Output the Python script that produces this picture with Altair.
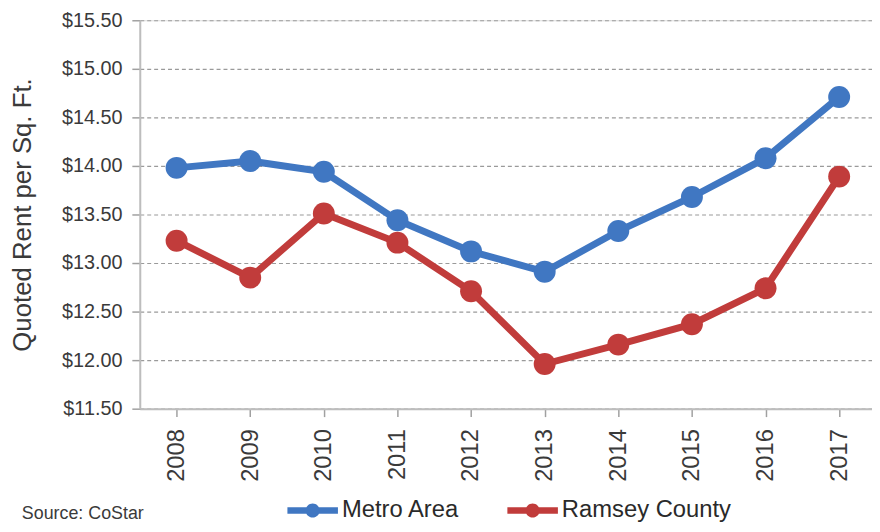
import altair as alt
import pandas as pd

years = ["2008", "2009", "2010", "2011", "2012", "2013", "2014", "2015", "2016", "2017"]
metro = [13.98, 14.05, 13.94, 13.44, 13.12, 12.91, 13.33, 13.68, 14.08, 14.71]
ramsey = [13.23, 12.85, 13.51, 13.21, 12.71, 11.96, 12.16, 12.37, 12.74, 13.89]
series_names = ["Metro Area", "Ramsey County"]
series_colors = ["#4077C2", "#C13C3B"]
y_ticks = [11.5, 12.0, 12.5, 13.0, 13.5, 14.0, 14.5, 15.0, 15.5]
source_note = ["Source: CoStar"]

rows = []
for name, vals in zip(series_names, [metro, ramsey]):
    for yr, v in zip(years, vals):
        rows.append({"year": yr, "rent": v, "series": name})
df = pd.DataFrame(rows)

FONT = "Liberation Sans, Arial, sans-serif"

legend_path = ("M-1,-0.13L1,-0.13L1,0.13L-1,0.13Z "
               "M0.28,0A0.28,0.28 0 1,1 -0.28,0A0.28,0.28 0 1,1 0.28,0Z")

x_enc = alt.X(
    "year:O",
    sort=years,
    scale=alt.Scale(type="point", range=[0, 743], padding=0.5),
    axis=alt.Axis(
        title=None, labelAngle=-90, labelFontSize=24, labelFont=FONT,
        labelColor="#3a3a3a", labelPadding=12, tickSize=8, tickColor="#a0a0a0",
        tickWidth=1.5, domainColor="#bdbdbd", domainWidth=2, grid=False,
    ),
)
y_enc = alt.Y(
    "rent:Q",
    scale=alt.Scale(domain=[11.5, 15.5], nice=False, zero=False),
    axis=alt.Axis(
        title="Quoted Rent per Sq. Ft.", titleFontSize=26, titleFont=FONT,
        titleFontWeight="normal", titleColor="#3a3a3a", titlePadding=26,
        values=y_ticks, format="$.2f", labelFontSize=20, labelFont=FONT,
        labelColor="#3a3a3a", labelPadding=10, tickSize=8, tickColor="#a0a0a0",
        tickWidth=1.5, domainColor="#bdbdbd", domainWidth=2,
        grid=True, gridColor="#9a9a9a", gridDash=[4, 3], gridWidth=1.2,
    ),
)
color_enc = alt.Color(
    "series:N",
    scale=alt.Scale(domain=series_names, range=series_colors),
    legend=alt.Legend(
        title=None, orient="none", direction="horizontal", legendX=149, legendY=469,
        symbolType=legend_path, symbolSize=2600, symbolStrokeWidth=0,
        labelFontSize=24, labelFont=FONT, labelColor="#2a2a2a", labelOffset=4,
        labelLimit=400, columnPadding=48, symbolOpacity=1,
    ),
)

base = alt.Chart(df)
lines = base.mark_line(strokeWidth=7).encode(x=x_enc, y=y_enc, color=color_enc)
points = base.mark_circle(size=490, opacity=1).encode(x=x_enc, y=y_enc, color=color_enc)

note = alt.Chart(pd.DataFrame({"t": source_note})).mark_text(
    align="left", baseline="alphabetic", fontSize=18, font=FONT, color="#3a3a3a"
).encode(text="t:N", x=alt.value(-119), y=alt.value(503))

chart = alt.layer(lines, points, note).properties(
    width=739, height=392,
    autosize=alt.AutoSizeParams(type="none"),
    padding={"left": 133, "top": 10, "right": 0, "bottom": 114},
).configure_view(stroke=None).configure(background="white")

chart.save("out.html", embed_options={"renderer": "svg", "actions": False})
